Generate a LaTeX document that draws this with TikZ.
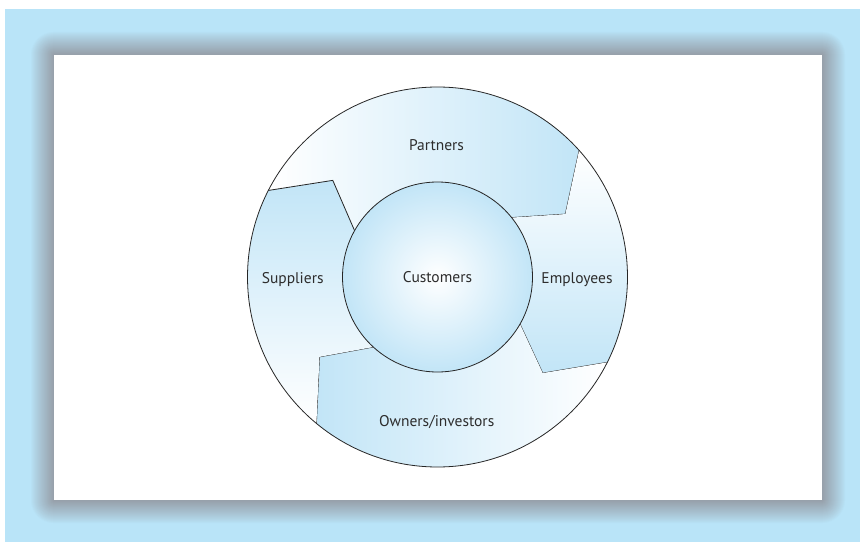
\documentclass[tikz,border=0pt]{standalone}
\usepackage{fontspec}
\setmainfont{PT Sans}
\definecolor{skyback}{RGB}{185,228,248}
\definecolor{bandblue}{RGB}{194,229,247}
\definecolor{shadowgray}{RGB}{150,158,168}
\definecolor{labelgray}{RGB}{45,45,45}
\begin{document}
\begin{tikzpicture}[%
    x=1pt, y=1pt,                          % work in pixels of the page
    font=\fontsize{15.5}{18}\selectfont,   % one size for all labels
    ]
% -------------------------------------------------
% A few styles
\tikzset{
  edge/.style={draw=black!85, line width=0.8pt},
  rim/.style={edge, circle, minimum size=380pt, inner sep=0pt},
  hub/.style={edge, circle, minimum size=190pt, inner sep=0pt,
    inner color=white, outer color=bandblue, text=labelgray},
  lbl/.style={text=labelgray, anchor=base, inner sep=0pt},
  band/.style={top color=bandblue, bottom color=white},
}
% -------------------------------------------------
% Page, soft shadow and white panel
\useasboundingbox (0,0) rectangle (860,542);
\fill[white] (0,0) rectangle (860,542);
\fill[skyback] (5,0) rectangle (860,533);
\foreach \i in {24,23,...,1}{
  \pgfmathsetmacro\mix{100*(1-\i/24)^0.9}
  \fill[shadowgray!\mix!skyback, rounded corners=\i pt]
    (54-\i,42-\i) rectangle (822+\i,487+\i);
}
\fill[white] (54,42) rectangle (822,487);
% -------------------------------------------------
% The four bands round the ring
\coordinate (c) at (437.5,265);
\begin{scope}[shift={(c)}]
% previous head / own head (outer, tip, inner) / shading angle
\foreach \oa/\va/\ia/\ob/\vb/\ib/\sa in {%
    152.9/137.3/150.8/41.8/26.2/38.7/-90,     % Partners
    41.8/26.2/38.7/-26.7/-42.4/-29.7/180,     % Employees
    -26.7/-42.4/-29.7/-129.6/-145.9/-132.5/90, % Owners/investors
    -129.6/-145.9/-132.5/-207.1/-222.7/-209.2/0% Suppliers
  }{
  \shade[band, shading angle=\sa]
    (\oa:190) -- (\va:142.5) -- (\ia:95)
    arc[start angle=\ia, end angle=\ib, radius=95]
    -- (\vb:142.5) -- (\ob:190)
    arc[start angle=\ob, end angle=\oa, radius=190] -- cycle;
  \draw[edge] (\ob:190) -- (\vb:142.5) -- (\ib:95);
}
\end{scope}
% -------------------------------------------------
% Circles and labels
\node[rim] (rim) at (c) {};
\node[hub] (customers) at (c) {Customers};
\node[lbl] (partners) at (436.5,391.3) {Partners};
\node[lbl] (suppliers) at (292.7,258.7) {Suppliers};
\node[lbl] (employees) at (577,258.7) {Employees};
\node[lbl] (owners) at (436.7,116) {Owners/investors};
% -------------------------------------------------
\end{tikzpicture}
\end{document}
